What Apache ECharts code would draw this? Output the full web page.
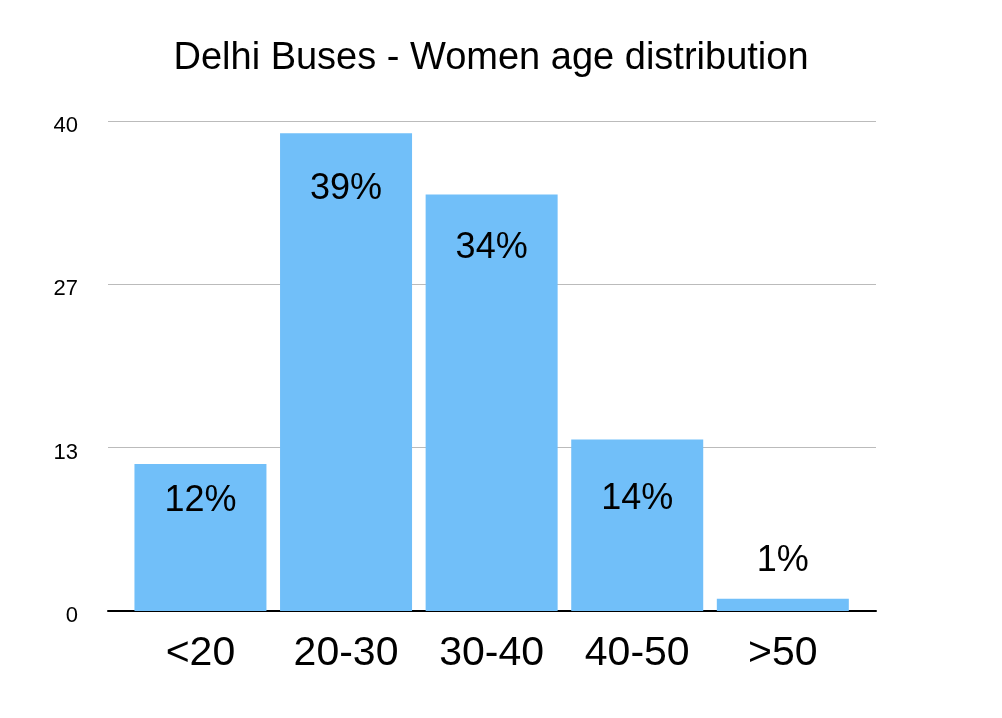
<!DOCTYPE html>
<html>
<head>
<meta charset="utf-8">
<script src="https://cdn.jsdelivr.net/npm/echarts@6/dist/echarts.min.js"></script>
<style>html,body{margin:0;padding:0;background:#fff}#c{width:1002px;height:718px}</style>
</head>
<body>
<div id="c"></div>
<script>
var categories = ['<20', '20-30', '30-40', '40-50', '>50'];
var values = [12, 39, 34, 14, 1];
var valueLabels = ['12%', '39%', '34%', '14%', '1%'];
var yTicks = [0, 13, 27, 40];

// label placement styles (not data)
var labelPos = ['insideTop', 'insideTop', 'insideTop', 'insideTop', 'top'];
var labelDist = [19, 38, 36, 42, 20];

var FONT = '"Liberation Sans", Arial, Helvetica, sans-serif';
var chart = echarts.init(document.getElementById('c'));
chart.setOption({
  animation: false,
  backgroundColor: '#fff',
  title: {
    text: 'Delhi Buses - Women age distribution',
    left: 486, top: 35, textAlign: 'center',
    textStyle: { fontFamily: FONT, fontSize: 38, fontWeight: 'normal', color: '#000' }
  },
  grid: { left: 108, right: 126, top: 121, bottom: 107, containLabel: false },
  xAxis: {
    type: 'value', min: -0.635, max: 4.64,
    axisLine: { show: true, lineStyle: { color: '#000', width: 2 } },
    axisTick: { show: false },
    splitLine: { show: false },
    axisLabel: {
      customValues: [0, 1, 2, 3, 4],
      formatter: function (v) { return categories[Math.round(v)]; },
      fontFamily: FONT, fontSize: 41, color: '#000', margin: 22, lineHeight: 42
    }
  },
  yAxis: {
    type: 'value', min: 0, max: 40, interval: 40 / 3,
    axisLine: { show: false }, axisTick: { show: false },
    splitLine: { show: true, lineStyle: { color: '#bbbbbb', width: 1 } },
    axisLabel: {
      formatter: function (v) { return String(Math.round(v)); },
      fontFamily: FONT, fontSize: 22, color: '#000', margin: 30,
      verticalAlign: 'top', lineHeight: 10
    }
  },
  series: [{
    type: 'bar',
    barWidth: 132,
    itemStyle: { color: '#71bff9' },
    data: values.map(function (v, i) {
      return {
        value: [i, v],
        label: {
          show: true, position: labelPos[i], distance: labelDist[i],
          formatter: valueLabels[i],
          fontFamily: FONT, fontSize: 36, color: '#000'
        }
      };
    })
  }]
});
</script>
</body>
</html>
